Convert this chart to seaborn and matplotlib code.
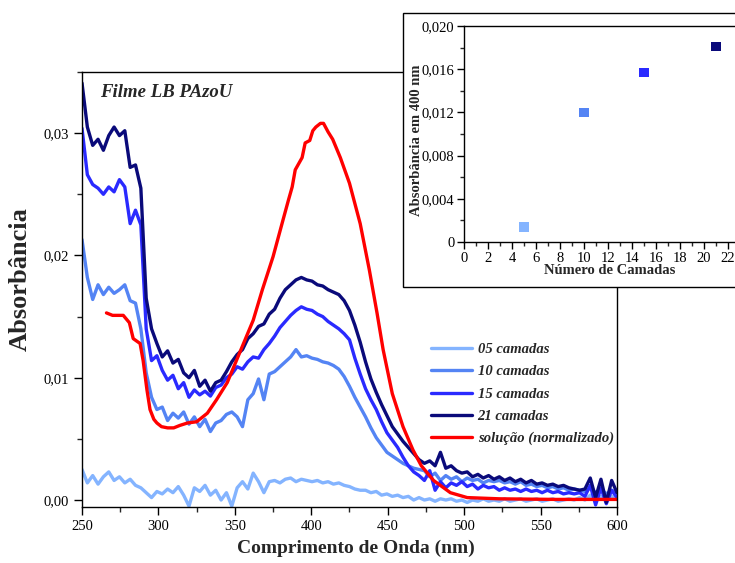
import numpy as np
import pandas as pd
import matplotlib
matplotlib.use("Agg")
import matplotlib.pyplot as plt
import seaborn as sns
from matplotlib.ticker import MultipleLocator, FuncFormatter
from matplotlib.patches import Rectangle

# ---------------- data (absorbance values in units of 1e-3) ----------------
wavelength = np.linspace(250, 600, 101)   # 3.5 nm sampling

a05 = [2.5, 1.4, 2.0, 1.3, 1.9, 2.3, 1.6, 1.9, 1.4, 1.7,
       1.2, 1.0, 0.6, 0.2, 0.7, 0.5, 0.9, 0.6, 1.1, 0.4,
       -0.5, 1.0, 0.7, 1.2, 0.4, 0.8, 0.0, 0.6, -0.5, 1.0,
       1.5, 0.9, 2.2, 1.5, 0.6, 1.5, 1.6, 1.4, 1.7, 1.8,
       1.5, 1.7, 1.6, 1.5, 1.6, 1.4, 1.5, 1.3, 1.4, 1.2,
       1.1, 0.9, 0.8, 0.8, 0.6, 0.7, 0.4, 0.5, 0.3, 0.4,
       0.2, 0.3, 0.0, 0.2, 0.0, 0.1, -0.1, 0.1, 0.0, 0.1,
       -0.1, 0.0, -0.2, 0.0, -0.1, 0.1, -0.1, 0.0, -0.1, 0.1,
       -0.1, 0.0, 0.1, -0.1, 0.0, 0.1, -0.1, 0.0, 0.1, -0.1,
       0.0, 0.1, 0.0, 0.2, 0.0, 0.4, -0.1, 0.3, 0.0, 0.3,
       0.1]

a10 = [21.3, 18.2, 16.4, 17.6, 16.8, 17.4, 16.9, 17.2, 17.6, 16.3,
       16.1, 14.0, 10.4, 8.4, 7.4, 7.6, 6.5, 7.1, 6.7, 7.2,
       6.2, 6.8, 6.0, 6.6, 5.6, 6.3, 6.5, 7.0, 7.2, 6.8,
       6.0, 8.2, 8.7, 9.9, 8.2, 10.3, 10.5, 10.9, 11.3, 11.7,
       12.3, 11.7, 11.8, 11.6, 11.5, 11.3, 11.2, 11.0, 10.7, 10.1,
       9.3, 8.4, 7.6, 6.8, 5.9, 5.1, 4.5, 3.9, 3.6, 3.3,
       3.0, 2.8, 2.6, 2.5, 2.4, 1.9, 2.2, 1.6, 2.0, 1.7,
       1.9, 1.5, 1.8, 1.6, 1.7, 1.4, 1.6, 1.5, 1.6, 1.4,
       1.5, 1.3, 1.5, 1.2, 1.3, 1.1, 1.2, 1.0, 1.1, 0.9,
       1.0, 0.8, 0.9, 0.8, 0.7, 1.0, 0.6, 0.9, 0.5, 0.8,
       0.6]

a15 = [30.4, 26.6, 25.8, 25.5, 25.0, 25.6, 25.2, 26.2, 25.6, 22.6,
       23.7, 22.5, 14.0, 11.4, 11.8, 10.6, 9.8, 10.2, 9.1, 9.6,
       8.4, 9.0, 8.6, 8.9, 8.5, 9.2, 9.4, 10.0, 10.3, 10.9,
       10.7, 11.3, 11.7, 11.6, 12.3, 12.8, 13.4, 14.1, 14.6, 15.1,
       15.5, 15.8, 15.6, 15.5, 15.2, 15.0, 14.6, 14.3, 14.0, 13.6,
       13.1, 11.6, 10.3, 9.1, 8.2, 7.4, 6.4, 5.5, 4.9, 4.3,
       3.5, 2.8, 2.3, 2.0, 1.6, 2.4, 0.8, 1.5, 1.0, 1.4,
       1.2, 1.5, 1.1, 1.3, 0.9, 1.2, 1.0, 1.1, 0.8, 1.0,
       0.8, 0.9, 0.7, 0.9, 0.7, 0.8, 0.6, 0.8, 0.6, 0.7,
       0.5, 0.6, 0.5, 0.6, 0.3, 1.2, -0.4, 1.0, -0.3, 0.8,
       0.2]

a21 = [34.1, 30.5, 29.0, 29.5, 28.6, 29.8, 30.5, 29.8, 30.2, 27.2,
       27.4, 25.5, 16.5, 14.0, 12.8, 11.7, 12.2, 11.2, 11.5, 10.4,
       10.0, 10.6, 9.3, 9.8, 8.9, 9.6, 9.8, 10.5, 11.3, 11.9,
       12.3, 13.2, 13.6, 14.2, 14.4, 15.2, 15.6, 16.5, 17.2, 17.6,
       18.0, 18.2, 18.0, 17.9, 17.6, 17.5, 17.2, 17.0, 16.8, 16.3,
       15.5, 14.3, 12.9, 11.3, 9.9, 8.8, 7.8, 6.9, 6.0, 5.4,
       4.8, 4.3, 3.8, 3.3, 3.0, 3.2, 2.8, 3.9, 2.6, 2.8,
       2.4, 2.2, 2.3, 1.9, 2.1, 1.8, 2.0, 1.7, 1.9, 1.6,
       1.8, 1.5, 1.7, 1.4, 1.6, 1.3, 1.4, 1.2, 1.3, 1.1,
       1.2, 1.0, 0.9, 0.8, 0.9, 1.8, 0.2, 1.7, -0.2, 1.6,
       0.6]

wl_sol = [266, 270, 277, 281, 283.5, 288, 290, 292.5, 294.5, 297,
          299, 302, 306, 310, 314, 319, 325, 332, 338, 345,
          353, 362, 368, 375, 381.5, 385, 387.5, 389.5, 394, 396,
          399, 401, 403, 406, 408, 411, 414, 419, 425, 432,
          438, 443, 447, 453, 460, 466.5, 472, 480, 491, 502,
          523, 560, 600]
a_sol = [15.3, 15.1, 15.1, 14.5, 13.2, 12.8, 11.4, 9.0, 7.4, 6.6,
         6.3, 6.0, 5.9, 5.9, 6.1, 6.3, 6.4, 7.1, 8.2, 9.6,
         12.0, 14.7, 17.2, 19.9, 22.9, 24.5, 25.6, 27.0, 28.0, 29.2,
         29.4, 30.2, 30.5, 30.8, 30.8, 30.1, 29.5, 28.0, 25.9, 22.6,
         18.8, 15.3, 12.3, 8.7, 6.0, 4.1, 2.8, 1.6, 0.6, 0.2,
         0.1, 0.05, 0.05]

series_names = ["05 camadas", "10 camadas", "15 camadas", "21 camadas",
                "solução (normalizado)"]
series_colors = ["#84b4ff", "#5484f4", "#2a2aff", "#0a0a7a", "#ff0000"]

# inset data
n_layers = [5, 10, 15, 21]
abs_400 = [0.0014, 0.0120, 0.0157, 0.0181]
layer_names = ["05", "10", "15", "21"]

# ---------------- build table ----------------
frames = []
for name, vals in zip(series_names[:4], [a05, a10, a15, a21]):
    frames.append(pd.DataFrame({"wl": wavelength, "abs": np.array(vals) * 1e-3,
                                "serie": name}))
frames.append(pd.DataFrame({"wl": wl_sol, "abs": np.array(a_sol) * 1e-3,
                            "serie": series_names[4]}))
df = pd.concat(frames, ignore_index=True)

inset_df = pd.DataFrame({"n": n_layers, "a": abs_400, "lbl": layer_names})

# ---------------- style ----------------
sns.set_style("ticks")
plt.rcParams["font.family"] = ["Liberation Serif", "DejaVu Serif"]
plt.rcParams["axes.linewidth"] = 1.0

fig = plt.figure(figsize=(7.35, 5.63), dpi=100)
ax = fig.add_axes([82 / 735, 1 - 507 / 563, 535 / 735, 435 / 563])
ax.set_zorder(0)

sns.lineplot(data=df, x="wl", y="abs", hue="serie", hue_order=series_names,
             palette=dict(zip(series_names, series_colors)), linewidth=2.4,
             estimator=None, sort=False, ax=ax, legend=True)

ax.set_xlim(250, 600)
ax.set_ylim(-0.00057, 0.035)
ax.xaxis.set_major_locator(MultipleLocator(50))
ax.xaxis.set_minor_locator(MultipleLocator(25))
ax.yaxis.set_major_locator(MultipleLocator(0.01))
ax.yaxis.set_minor_locator(MultipleLocator(0.005))
ax.yaxis.set_major_formatter(FuncFormatter(lambda v, p: f"{v:.2f}".replace(".", ",")))
ax.tick_params(axis="both", which="major", direction="out", length=6, width=1,
               labelsize=10.5, colors="black")
ax.tick_params(axis="both", which="minor", direction="out", length=3.5, width=1)
for s in ax.spines.values():
    s.set_visible(True)
    s.set_color("black")

ax.set_xlabel("Comprimento de Onda (nm)", fontsize=14, fontweight="bold")
ax.xaxis.set_label_coords(0.512, -0.075)
ax.xaxis.label.set_va("top")
ax.set_ylabel("Absorbância", fontsize=19, fontweight="bold")
ax.yaxis.set_label_coords(-0.094, 0.525)

ax.text(18 / 535, 0.972, "Filme LB PAzoU", transform=ax.transAxes,
        fontsize=13.5, fontweight="bold", fontstyle="italic", va="top", ha="left")

handles, labels = ax.get_legend_handles_labels()
for h in handles:
    h.set_linewidth(2.4)
ax.legend(handles, labels, loc="upper left",
          bbox_to_anchor=(431 / 735, 1 - 343 / 563), bbox_transform=fig.transFigure,
          frameon=False, borderpad=0, borderaxespad=0, handlelength=2.8,
          handletextpad=0.4, labelspacing=0.62,
          prop={"size": 10.5, "weight": "bold", "style": "italic",
                "family": "Liberation Serif"})

# ---------------- inset frame ----------------
frame = Rectangle((403 / 735, 1 - 287 / 563), 400 / 735, 274 / 563,
                  transform=fig.transFigure, facecolor="white", edgecolor="black",
                  linewidth=1.0, zorder=1)
fig.patches.append(frame)

# ---------------- inset axes ----------------
axin = fig.add_axes([464 / 735, 1 - 242 / 563, 288 / 735, 216 / 563])
axin.set_zorder(2)
sns.scatterplot(data=inset_df, x="n", y="a", hue="lbl",
                palette=dict(zip(layer_names, series_colors[:4])), marker="s",
                s=48, edgecolor="none", legend=False, ax=axin)
axin.set_xlim(0, 24)
axin.set_ylim(0, 0.020)
axin.xaxis.set_major_locator(MultipleLocator(2))
axin.xaxis.set_minor_locator(MultipleLocator(1))
axin.yaxis.set_major_locator(MultipleLocator(0.004))
axin.yaxis.set_minor_locator(MultipleLocator(0.002))
axin.yaxis.set_major_formatter(
    FuncFormatter(lambda v, p: "0" if abs(v) < 1e-9 else f"{v:.3f}".replace(".", ",")))
axin.tick_params(axis="both", which="major", direction="out", length=5, width=1,
                 labelsize=10.5, colors="black", pad=2)
axin.tick_params(axis="both", which="minor", direction="out", length=3, width=1)
for s in axin.spines.values():
    s.set_visible(True)
    s.set_color("black")
axin.set_xlabel("Número de Camadas", fontsize=10.5, fontweight="bold")
axin.xaxis.set_label_coords(0.507, -0.1)
axin.xaxis.label.set_va("top")
axin.set_ylabel("Absorbância em 400 nm", fontsize=10.5, fontweight="bold")
axin.yaxis.set_label_coords(-0.142, 0.472)

fig.savefig("out.png", dpi=100)
